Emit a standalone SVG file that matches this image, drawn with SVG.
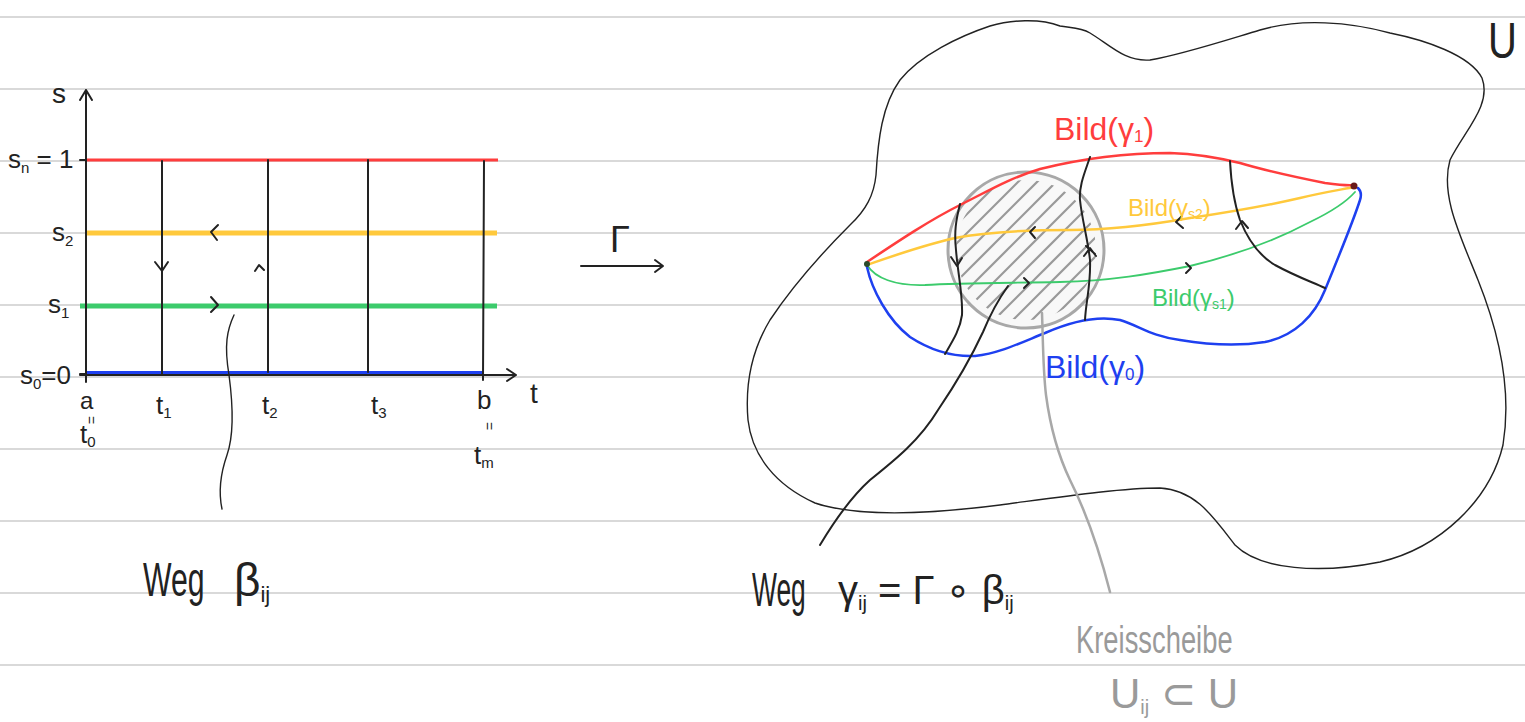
<svg xmlns="http://www.w3.org/2000/svg" width="1525" height="722" viewBox="0 0 1525 722">
<style>
.rule{stroke:#d9d9d9;stroke-width:2}
.ink{fill:none;stroke:#222;stroke-width:2;stroke-linecap:round;stroke-linejoin:round}
.thin{fill:none;stroke:#222;stroke-width:1.4;stroke-linecap:round;stroke-linejoin:round}
.hw{font-family:"Liberation Sans","DejaVu Sans",sans-serif;fill:#222}
.red{stroke:#ff3d3d}
.yel{stroke:#ffc93c}
.grn{stroke:#3ccb6c}
.blu{stroke:#1e40f0}
.gry{fill:none;stroke:#a8a8a8;stroke-width:2.5;stroke-linecap:round}
</style>
<defs>
<clipPath id="disk"><circle cx="1026" cy="250" r="70"/></clipPath>
</defs>
<rect width="1525" height="722" fill="#fff"/>
<g id="rules">
<line class="rule" x1="0" y1="17" x2="1525" y2="17"/>
<line class="rule" x1="0" y1="89" x2="1525" y2="89"/>
<line class="rule" x1="0" y1="161" x2="1525" y2="161"/>
<line class="rule" x1="0" y1="233" x2="1525" y2="233"/>
<line class="rule" x1="0" y1="305" x2="1525" y2="305"/>
<line class="rule" x1="0" y1="377" x2="1525" y2="377"/>
<line class="rule" x1="0" y1="449" x2="1525" y2="449"/>
<line class="rule" x1="0" y1="521" x2="1525" y2="521"/>
<line class="rule" x1="0" y1="593" x2="1525" y2="593"/>
<line class="rule" x1="0" y1="665" x2="1525" y2="665"/>
</g>

<!-- Left: parameter rectangle -->
<g id="left-lines">
<line x1="86" y1="160" x2="498" y2="160" class="red" stroke-width="3"/>
<line x1="86" y1="233" x2="497" y2="233" class="yel" stroke-width="5"/>
<line x1="80" y1="306" x2="497" y2="306" class="grn" stroke-width="5"/>
<line x1="86" y1="373" x2="483" y2="373" class="blu" stroke-width="4"/>
</g>
<g id="axes">
<path class="ink" d="M86,382 L86,90 M80,100 L86,90 L92,100"/>
<path class="ink" d="M80,375 L515,375 M507,369 L516,375 L507,381"/>
<path class="ink" d="M80,160 L86,160 M80,374 L86,374"/>
</g>
<g id="verticals">
<line class="ink" x1="162" y1="161" x2="162" y2="375"/>
<line class="ink" x1="268" y1="160" x2="268" y2="372" stroke-width="3"/>
<line class="ink" x1="368" y1="160" x2="368" y2="372"/>
<line class="ink" x1="484" y1="161" x2="483" y2="380"/>
</g>
<g id="left-arrows">
<path class="ink" d="M218,225 L211,232 L217,240"/>
<path class="ink" d="M211,297 L218,305 L211,312"/>
<path class="ink" d="M155,262 L162,271 L168,262"/>
<path class="ink" d="M255,271 L259,265 L264,270"/>
</g>
<g id="left-pointer">
<path class="thin" d="M234,315 C227,330 224,345 229,375 C233,405 234,435 227,455 C220,475 219,495 222,509"/>
</g>
<g id="left-labels" class="hw">
<text x="52" y="103" font-size="28">s</text>
<text x="8" y="168" font-size="26">s<tspan font-size="15" dy="5">n</tspan><tspan dy="-5"> = 1</tspan></text>
<text x="52" y="241" font-size="26">s<tspan font-size="15" dy="5">2</tspan></text>
<text x="48" y="313" font-size="26">s<tspan font-size="15" dy="5">1</tspan></text>
<text x="20" y="384" font-size="26">s<tspan font-size="15" dy="5">0</tspan><tspan dy="-5">=0</tspan></text>
<text x="80" y="409" font-size="24">a</text>
<text x="86" y="420" font-size="14" text-anchor="middle" transform="rotate(90 86 420)">=</text>
<text x="80" y="443" font-size="26">t<tspan font-size="15" dy="4">0</tspan></text>
<text x="156" y="414" font-size="26">t<tspan font-size="15" dy="4">1</tspan></text>
<text x="262" y="414" font-size="26">t<tspan font-size="15" dy="4">2</tspan></text>
<text x="371" y="414" font-size="26">t<tspan font-size="15" dy="4">3</tspan></text>
<text x="477" y="409" font-size="26">b</text>
<text x="484" y="426" font-size="14" text-anchor="middle" transform="rotate(90 484 426)">=</text>
<text x="474" y="464" font-size="26">t<tspan font-size="15" dy="4">m</tspan></text>
<text x="530" y="403" font-size="28">t</text>
</g>
<g id="weg-beta" class="hw">
<text transform="translate(143,596) scale(0.63,1)" x="0" y="0" font-size="48">Weg</text>
<text x="234" y="596" font-size="46">β<tspan font-size="22" dy="6">ij</tspan></text>
</g>

<!-- Gamma map -->
<g id="gamma-map">
<path class="ink" d="M581,266 L662,266 M655,260 L663,266 L655,272"/>
<text class="hw" x="610" y="252" font-size="36">Γ</text>
</g>

<!-- Right: region U -->
<g id="region-U">
<path class="thin" d="M1060,26 C1040,18 1010,20 990,26 C960,36 920,55 900,80 C882,105 878,140 876,175 C874,195 866,210 850,225 C820,255 790,290 770,320 C752,350 745,385 748,420 C752,455 775,485 815,503 C860,518 930,514 1000,505 C1060,497 1120,488 1160,488 C1195,490 1212,515 1235,545 C1260,570 1320,574 1380,562 C1440,548 1490,500 1503,445 C1512,390 1498,330 1478,280 C1460,235 1440,195 1450,160 C1465,130 1492,105 1482,78 C1470,55 1425,40 1390,33 C1350,22 1300,18 1260,30 C1220,42 1180,55 1150,60 C1125,62 1110,45 1090,33 C1080,27 1070,28 1060,26 Z"/>
<text class="hw" transform="translate(1488,58) scale(0.8,1)" x="0" y="0" font-size="50">U</text>
</g>

<g id="disk-U-ij">
<circle cx="1026" cy="250" r="78" fill="#f8f8f8" stroke="#a8a8a8" stroke-width="3"/>
<g clip-path="url(#disk)" stroke="#999" stroke-width="2.2">
<line x1="900" y1="281" x2="1100" y2="81"/>
<line x1="900" y1="300" x2="1100" y2="100"/>
<line x1="900" y1="319" x2="1100" y2="119"/>
<line x1="900" y1="338" x2="1100" y2="138"/>
<line x1="900" y1="357" x2="1100" y2="157"/>
<line x1="900" y1="376" x2="1100" y2="176"/>
<line x1="900" y1="395" x2="1100" y2="195"/>
<line x1="900" y1="414" x2="1100" y2="214"/>
<line x1="900" y1="433" x2="1100" y2="233"/>
<line x1="900" y1="452" x2="1100" y2="252"/>
<line x1="900" y1="471" x2="1100" y2="271"/>
</g>
</g>

<g id="image-curves" fill="none" stroke-linecap="round">
<path class="red" stroke-width="2.5" d="M867,262 C900,240 930,220 960,205 C990,190 1010,178 1040,169 C1080,159 1120,153 1170,153 C1200,154 1220,158 1240,163 C1270,172 1300,178 1325,183 C1340,185 1348,186 1354,185"/>
<path class="yel" stroke-width="2.5" d="M867,265 C890,257 920,246 955,238 C990,231 1030,230 1070,230 C1110,230 1150,225 1190,218 C1230,212 1270,205 1300,198 C1325,192 1345,189 1354,187"/>
<path class="grn" stroke-width="1.8" d="M867,265 C875,278 895,286 925,285 C960,283 1010,283 1060,282 C1110,281 1150,274 1190,266 C1240,254 1280,238 1310,222 C1335,210 1348,200 1355,192"/>
<path class="blu" stroke-width="2.5" d="M867,267 C872,290 888,320 910,337 C930,350 950,357 975,356 C1000,353 1020,343 1045,333 C1070,322 1095,315 1120,320 C1140,326 1150,336 1180,340 C1210,345 1240,346 1265,342 C1295,336 1315,315 1325,290 C1335,265 1352,225 1360,200 C1362,194 1360,190 1358,188"/>
<circle cx="867" cy="264" r="3" fill="#2a4a2a"/>
<circle cx="1354" cy="186" r="3.5" fill="#6a1a1a"/>
</g>

<g id="connectors" fill="none">
<path class="ink" d="M960,204 C956,220 954,232 956,250 C958,275 963,295 962,315 C960,330 952,342 945,354"/>
<path class="ink" d="M1090,157 C1085,172 1079,185 1080,200 C1082,220 1088,240 1090,260 C1091,285 1086,300 1085,320"/>
<path class="ink" d="M1230,161 C1231,180 1233,200 1240,220 C1248,240 1258,255 1275,265 C1295,276 1312,282 1325,288"/>
<path class="ink" d="M1008,286 C998,300 990,315 983,332 C970,360 955,385 938,410 C920,440 895,460 870,480 C850,498 832,525 820,545"/>
<path class="ink" d="M951,257 L957,266 L962,258"/>
<path class="ink" d="M1084,256 L1090,248 L1096,256 M1086,246 L1095,254"/>
<path class="ink" d="M1236,229 L1242,221 L1248,228"/>
<path class="ink" d="M1182,216 L1176,222 L1183,228"/>
<path class="ink" d="M1035,227 L1030,232 L1035,238"/>
<path class="ink" d="M1186,263 L1191,268 L1186,273"/>
<path class="ink" d="M1024,278 L1029,283 L1024,288"/>
<path class="gry" d="M1042,313 C1043,340 1043,370 1046,395 C1050,425 1058,455 1070,480 C1085,510 1098,545 1110,592"/>
</g>

<g id="bild-labels" font-family="'Liberation Sans','DejaVu Sans',sans-serif">
<text x="1054" y="140" font-size="32" fill="#ff3d3d">Bild(γ<tspan font-size="17" dy="2">1</tspan><tspan dy="-2">)</tspan></text>
<text x="1128" y="216" font-size="24" fill="#ffc93c">Bild(γ<tspan font-size="14" dy="3">s2</tspan><tspan dy="-3">)</tspan></text>
<text x="1152" y="306" font-size="24" fill="#3ccb6c">Bild(γ<tspan font-size="14" dy="3">s1</tspan><tspan dy="-3">)</tspan></text>
<text x="1045" y="378" font-size="32" fill="#1e40f0">Bild(γ<tspan font-size="17" dy="2">0</tspan><tspan dy="-2">)</tspan></text>
</g>

<g id="weg-gamma" class="hw">
<text transform="translate(752,606) scale(0.55,1)" x="0" y="0" font-size="48">Weg</text>
<text x="838" y="604" font-size="40">γ<tspan font-size="20" dy="6">ij</tspan><tspan dy="-6"> = Γ ∘ β</tspan><tspan font-size="20" dy="6">ij</tspan></text>
</g>

<g id="kreisscheibe" font-family="'Liberation Sans','DejaVu Sans',sans-serif" fill="#9a9a9a">
<text transform="translate(1076,653) scale(0.72,1)" x="0" y="0" font-size="38">Kreisscheibe</text>
<text x="1110" y="708" font-size="42">U<tspan font-size="20" dy="6">ij</tspan><tspan dy="-6"> ⊂ U</tspan></text>
</g>
</svg>
